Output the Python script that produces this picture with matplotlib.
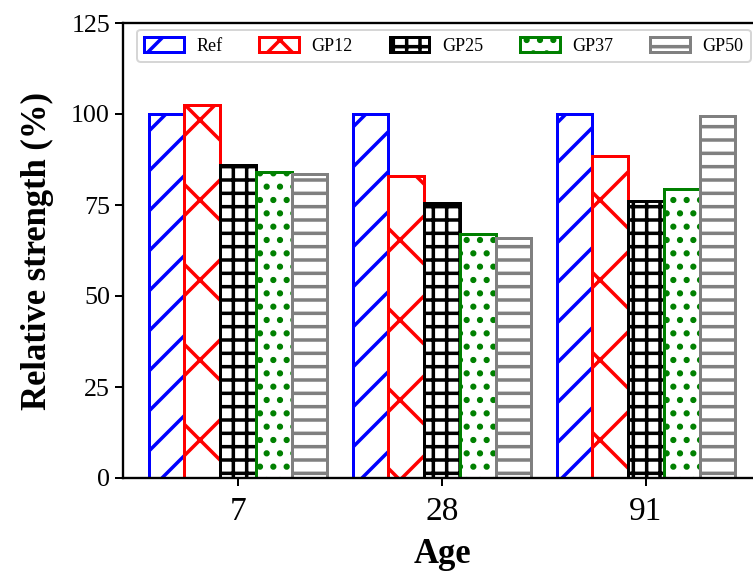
import matplotlib
matplotlib.use("Agg")
import matplotlib.pyplot as plt
import numpy as np

# Relative strength (%) per curing age
ages = ["7", "28", "91"]
mixes = ["Ref", "GP12", "GP25", "GP37", "GP50"]
ref = [100, 100, 100]
gp12 = [102.5, 83, 88.5]
gp25 = [86, 75.5, 76]
gp37 = [84, 67, 79.5]
gp50 = [83.5, 66, 99.5]
colors = ["blue", "red", "black", "green", "gray"]
hatches = ["//", "x", "+++", "...", "---"]

plt.rcParams["font.family"] = ["Liberation Serif", "DejaVu Serif"]
plt.rcParams["hatch.linewidth"] = 1.05

dpi = 240
fig = plt.figure(figsize=(753 / dpi, 573 / dpi), dpi=dpi)
ax = fig.add_axes([123 / 753, 95 / 573, 638 / 753, 455 / 573])

x = np.arange(len(ages))
w = 0.175
for i, vals in enumerate([ref, gp12, gp25, gp37, gp50]):
    ax.bar(x + (i - 2) * w, vals, w, facecolor="white", edgecolor=colors[i],
           hatch=hatches[i], linewidth=0.9, label=mixes[i])

ax.set_xlim(-0.564, 2.564)
ax.set_ylim(0, 125)
ax.set_yticks(np.arange(0, 126, 25))
ax.set_xticks(x)
ax.set_xticklabels(ages)
for s in ax.spines.values():
    s.set_linewidth(0.7)
ax.tick_params(direction="out", length=2.4, width=0.6)
ax.tick_params(axis="y", labelsize=7.8, pad=1.5)
ax.tick_params(axis="x", labelsize=10, pad=3)

ax.set_xlabel("Age", fontsize=10.4, fontweight="bold", labelpad=3.5)
ax.set_ylabel("Relative strength (%)", fontsize=10.4, fontweight="bold", labelpad=5)

leg = ax.legend(ncol=5, loc="upper left", bbox_to_anchor=(0.022, 0.985),
                borderaxespad=0, fontsize=5.4, handlelength=2.2, handleheight=0.9,
                handletextpad=0.7, columnspacing=2.05, fancybox=True)
leg.get_frame().set_linewidth(0.6)

fig.savefig("out.png", dpi=dpi)
